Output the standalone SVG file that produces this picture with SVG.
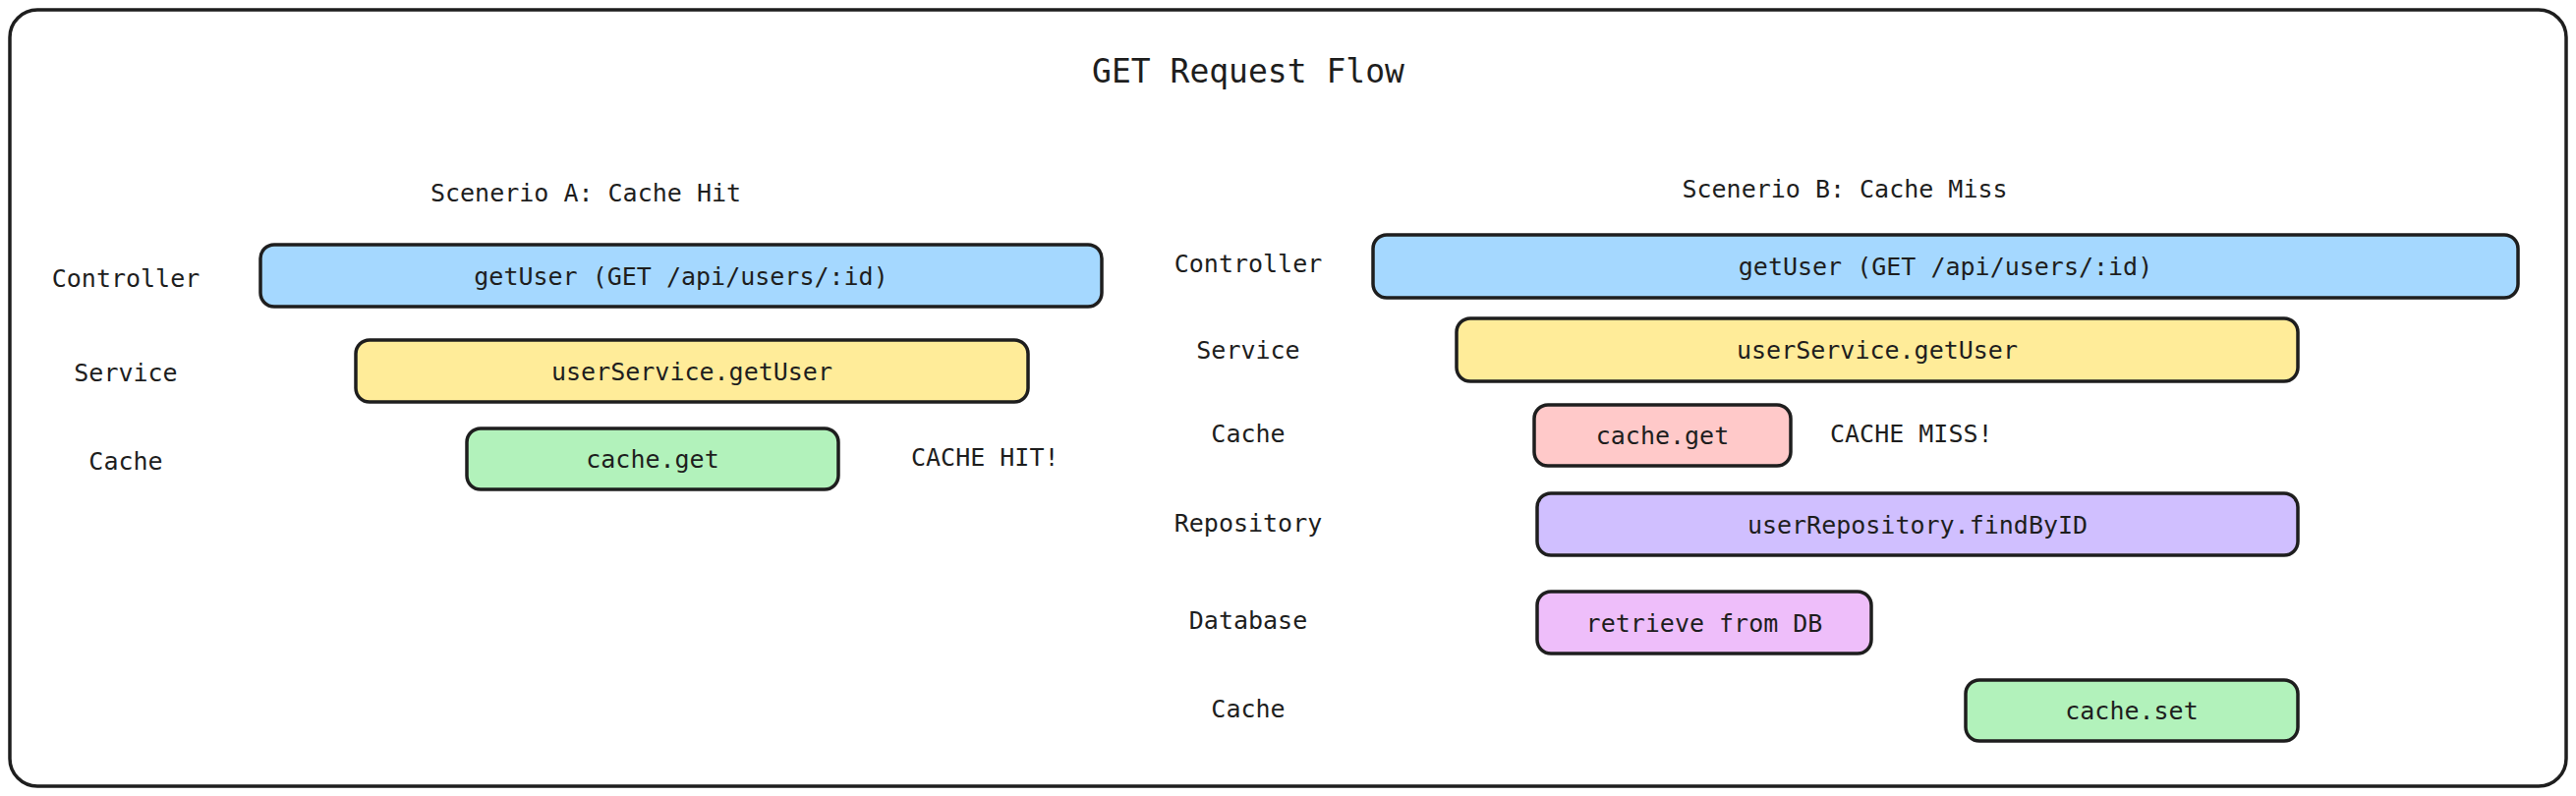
<svg xmlns="http://www.w3.org/2000/svg" width="2621" height="810" viewBox="0 0 2621 810">
<style>
  text { font-family: "DejaVu Sans Mono", "Liberation Mono", monospace; font-size: 25px; fill: #1e1e1e; }
  .c { text-anchor: middle; }
  .title { font-size: 33px; }
  .box { stroke: #1e1e1e; stroke-width: 3.5; }
  .blue { fill: #a5d8ff; }
  .yellow { fill: #ffec99; }
  .green { fill: #b2f2bb; }
  .pink { fill: #ffc9c9; }
  .purple { fill: #d0bfff; }
  .magenta { fill: #eebefa; }
</style>
<rect width="2621" height="810" fill="#ffffff"/>
<g id="frame">
  <rect x="10" y="10" width="2601" height="790" rx="28" fill="#ffffff" stroke="#1e1e1e" stroke-width="3.5"/>
</g>
<g id="titles">
  <text class="c title" x="1270" y="84">GET Request Flow</text>
  <text class="c" x="596" y="205">Scenerio A: Cache Hit</text>
  <text class="c" x="1877" y="201">Scenerio B: Cache Miss</text>
</g>
<g id="labels-a">
  <text class="c" x="128" y="292">Controller</text>
  <text class="c" x="128" y="388">Service</text>
  <text class="c" x="128" y="478">Cache</text>
  <text x="927" y="474">CACHE HIT!</text>
</g>
<g id="labels-b">
  <text class="c" x="1270" y="277">Controller</text>
  <text class="c" x="1270" y="365">Service</text>
  <text class="c" x="1270" y="450">Cache</text>
  <text x="1862" y="450">CACHE MISS!</text>
  <text class="c" x="1270" y="541">Repository</text>
  <text class="c" x="1270" y="640">Database</text>
  <text class="c" x="1270" y="730">Cache</text>
</g>
<g id="connectors"></g>
<g id="a-controller">
  <rect class="box blue" x="265" y="249" width="856" height="63" rx="14"/>
  <text class="c" x="693" y="289.5">getUser (GET /api/users/:id)</text>
</g>
<g id="a-service">
  <rect class="box yellow" x="362" y="346" width="684" height="63" rx="14"/>
  <text class="c" x="704" y="386.5">userService.getUser</text>
</g>
<g id="a-cache">
  <rect class="box green" x="475" y="436" width="378" height="62" rx="14"/>
  <text class="c" x="664" y="476">cache.get</text>
</g>
<g id="b-controller">
  <rect class="box blue" x="1397" y="239" width="1165" height="64" rx="14"/>
  <text class="c" x="1979.5" y="280">getUser (GET /api/users/:id)</text>
</g>
<g id="b-service">
  <rect class="box yellow" x="1482" y="324" width="856" height="64" rx="14"/>
  <text class="c" x="1910" y="365">userService.getUser</text>
</g>
<g id="b-cache-get">
  <rect class="box pink" x="1561" y="412" width="261" height="62" rx="14"/>
  <text class="c" x="1691.5" y="452">cache.get</text>
</g>
<g id="b-repository">
  <rect class="box purple" x="1564" y="502" width="774" height="63" rx="14"/>
  <text class="c" x="1951" y="542.5">userRepository.findByID</text>
</g>
<g id="b-database">
  <rect class="box magenta" x="1564" y="602" width="340" height="63" rx="14"/>
  <text class="c" x="1734" y="642.5">retrieve from DB</text>
</g>
<g id="b-cache-set">
  <rect class="box green" x="2000" y="692" width="338" height="62" rx="14"/>
  <text class="c" x="2169" y="732">cache.set</text>
</g>
</svg>
